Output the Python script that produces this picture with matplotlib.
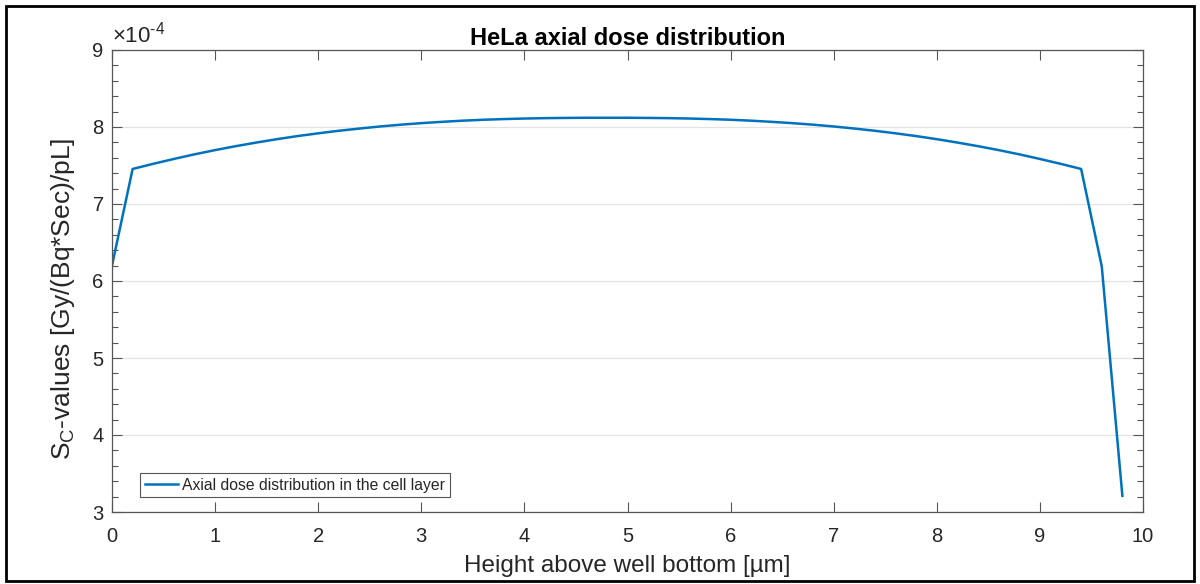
import matplotlib
matplotlib.use('Agg')
import matplotlib.pyplot as plt
from matplotlib.ticker import MultipleLocator
from matplotlib.patches import Rectangle

plt.rcParams['font.family'] = ['Liberation Sans', 'DejaVu Sans']
plt.rcParams['mathtext.fontset'] = 'custom'
plt.rcParams['mathtext.rm'] = 'Liberation Sans'
plt.rcParams['axes.unicode_minus'] = False

# height above well bottom [um]
height = [0.0, 0.2, 0.4, 0.6, 0.8, 1.0, 1.2, 1.4, 1.6, 1.8,
          2.0, 2.2, 2.4, 2.6, 2.8, 3.0, 3.2, 3.4, 3.6, 3.8,
          4.0, 4.2, 4.4, 4.6, 4.8, 5.0, 5.2, 5.4, 5.6, 5.8,
          6.0, 6.2, 6.4, 6.6, 6.8, 7.0, 7.2, 7.4, 7.6, 7.8,
          8.0, 8.2, 8.4, 8.6, 8.8, 9.0, 9.2, 9.4, 9.6, 9.8]
# S_C values in units of 1e-4 Gy/(Bq*Sec)/pL
sc_e4 = [6.200, 7.455, 7.522, 7.585, 7.645, 7.700, 7.751, 7.798, 7.842, 7.882,
         7.918, 7.951, 7.980, 8.007, 8.030, 8.050, 8.067, 8.082, 8.094, 8.103,
         8.110, 8.115, 8.118, 8.120, 8.120, 8.120, 8.118, 8.115, 8.110, 8.103,
         8.094, 8.082, 8.067, 8.050, 8.030, 8.007, 7.980, 7.951, 7.918, 7.882,
         7.842, 7.798, 7.751, 7.700, 7.645, 7.585, 7.522, 7.455, 6.190, 3.210]

xticks = [0, 1, 2, 3, 4, 5, 6, 7, 8, 9, 10]
yticks = [3, 4, 5, 6, 7, 8, 9]

axcol = '#555555'
txtcol = '#262626'

fig = plt.figure(figsize=(12, 5.84), dpi=100)
ax = fig.add_axes([112 / 1200, 1 - 512 / 584, 1031 / 1200, 462 / 584])

ax.plot(height, sc_e4, color='#0072BD', lw=1.8,
        label='Axial dose distribution in the cell layer')

ax.set_xlim(0, 10)
ax.set_ylim(3, 9)
ax.set_xticks(xticks)
ax.set_yticks(yticks)
ax.yaxis.set_minor_locator(MultipleLocator(0.2))
ax.grid(axis='y', which='major', color='#e3e3e3', lw=0.9)
ax.set_axisbelow(True)

ax.tick_params(which='both', direction='in', top=True, right=True,
               color=axcol, labelcolor=txtcol, labelsize=14.5)
ax.tick_params(which='major', length=7, width=0.8)
ax.tick_params(which='minor', length=4, width=0.8)
ax.tick_params(axis='x', pad=11)
ax.tick_params(axis='y', pad=6)
for s in ax.spines.values():
    s.set_color(axcol)
    s.set_linewidth(0.9)

ax.set_title('HeLa axial dose distribution', fontsize=17, fontweight='bold',
             color='black', pad=2.5)
ax.set_xlabel('Height above well bottom [µm]', fontsize=17.5, color=txtcol)
ax.set_ylabel(r'S$_\mathregular{C}$-values [Gy/(Bq*Sec)/pL]', fontsize=19, color=txtcol)
ax.xaxis.set_label_coords(0.5, -0.092)
ax.yaxis.set_label_coords(-0.034, 0.461)

ax.text(0.0, 1.0152, r'$\times\mathregular{10^{\text{-}4}}$', transform=ax.transAxes,
        fontsize=16, color=txtcol, ha='left', va='baseline')

leg = ax.legend(loc='lower left', bbox_to_anchor=(0.027, 0.032), borderaxespad=0,
                fontsize=11.3, handlelength=2.1, handletextpad=0.3, borderpad=0.3,
                fancybox=False, framealpha=1, edgecolor=axcol)
leg.get_frame().set_linewidth(0.8)
for t in leg.get_texts():
    t.set_color(txtcol)

fig.patches.append(Rectangle((6 / 1200, 3 / 584), 1188 / 1200, 575 / 584,
                             transform=fig.transFigure, fill=False,
                             edgecolor='black', lw=2))

fig.savefig('out.png', dpi=100)
